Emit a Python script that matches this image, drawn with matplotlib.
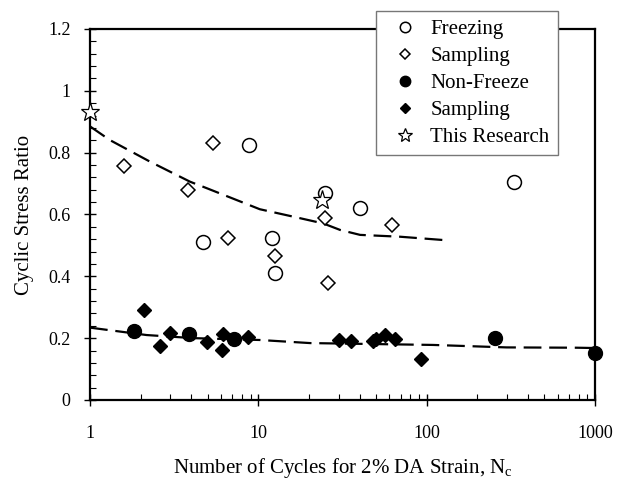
import numpy as np
import matplotlib
matplotlib.use('Agg')
import matplotlib.pyplot as plt
from matplotlib.ticker import FixedLocator, MultipleLocator, FuncFormatter, NullFormatter

plt.rcParams['font.family'] = 'Liberation Serif'

# data
freeze_x = [4.7, 8.8, 12, 12.5, 25, 40, 330]
freeze_y = [0.51, 0.825, 0.525, 0.41, 0.67, 0.62, 0.705]

samp_open_x = [1.6, 3.8, 5.4, 6.6, 12.5, 25, 26, 62]
samp_open_y = [0.757, 0.68, 0.83, 0.523, 0.466, 0.587, 0.377, 0.566]

nonfreeze_x = [1.83, 3.85, 7.2, 255, 1000]
nonfreeze_y = [0.223, 0.212, 0.198, 0.2, 0.151]

samp_fill_x = [2.1, 2.6, 3.0, 4.95, 6.05, 6.2, 8.7, 30, 35.5, 48, 50, 56.6, 65, 93]
samp_fill_y = [0.291, 0.175, 0.216, 0.189, 0.162, 0.212, 0.203, 0.194, 0.192, 0.19, 0.198, 0.21, 0.198, 0.132]

research_x = [1, 23.8]
research_y = [0.93, 0.647]

# dashed trend curves (traced)
upper_x = [1, 1.31, 2.27, 3.93, 4.94, 10.2, 16.1, 24.3, 30.6, 40.2, 69.6, 128]
upper_y = [0.885, 0.841, 0.771, 0.706, 0.685, 0.617, 0.593, 0.571, 0.55, 0.534, 0.528, 0.517]
lower_x = [1, 2.17, 4.11, 10.2, 20.3, 109, 298, 779, 1000]
lower_y = [0.234, 0.21, 0.2, 0.194, 0.184, 0.178, 0.17, 0.169, 0.168]

fig = plt.figure(figsize=(6.27, 4.79), dpi=100)
ax = fig.add_axes([0.1435, 0.165, 0.8055, 0.7745])

dash = (8, 3.5)
ax.plot(upper_x, upper_y, color='black', lw=1.6, dashes=dash, zorder=2)
ax.plot(lower_x, lower_y, color='black', lw=1.6, dashes=dash, zorder=2)

ax.plot(freeze_x, freeze_y, 'o', ms=10, mfc='white', mec='black', mew=1.1,
        ls='none', label='Freezing', zorder=3)
ax.plot(samp_open_x, samp_open_y, 'D', ms=7, mfc='white', mec='black', mew=1.1,
        ls='none', label='Sampling', zorder=3)
ax.plot(nonfreeze_x, nonfreeze_y, 'o', ms=10, mfc='black', mec='black',
        ls='none', label='Non-Freeze', zorder=3, clip_on=False)
ax.plot(samp_fill_x, samp_fill_y, 'D', ms=7, mfc='black', mec='black',
        ls='none', label='Sampling', zorder=3)
ax.plot(research_x, research_y, '*', ms=14, mfc='white', mec='black', mew=0.9,
        ls='none', label='This Research', zorder=4, clip_on=False)

ax.set_xscale('log')
ax.set_xlim(1, 1000)
ax.set_ylim(0, 1.2)
ax.xaxis.set_major_locator(FixedLocator([1, 10, 100, 1000]))
ax.xaxis.set_major_formatter(FuncFormatter(lambda v, p: '%d' % v))
ax.xaxis.set_minor_formatter(NullFormatter())
ax.yaxis.set_major_locator(MultipleLocator(0.2))
ax.yaxis.set_minor_locator(MultipleLocator(0.04))
ax.yaxis.set_major_formatter(FuncFormatter(lambda v, p: '%g' % round(v, 1)))

ax.tick_params(which='major', direction='inout', length=8, width=1, labelsize=13, pad=10)
ax.tick_params(which='minor', direction='in', length=4, width=0.8)
ax.tick_params(axis='x', which='major', pad=14)
for s in ax.spines.values():
    s.set_linewidth(1.6)

ax.set_xlabel('Number of Cycles for 2% DA Strain, N$_\\mathregular{c}$', fontsize=15, labelpad=10)
ax.set_ylabel('Cyclic Stress Ratio', fontsize=15, labelpad=10)

leg = ax.legend(loc='upper left', bbox_to_anchor=(0.6, 0.976), bbox_transform=fig.transFigure,
                fontsize=15, fancybox=False, framealpha=1, edgecolor='#777777',
                markerscale=0.75, handletextpad=0.2, labelspacing=0.35,
                handlelength=2.0, borderpad=0.4, borderaxespad=0)
leg.get_frame().set_linewidth(1.0)

plt.savefig('out.png', dpi=100)
